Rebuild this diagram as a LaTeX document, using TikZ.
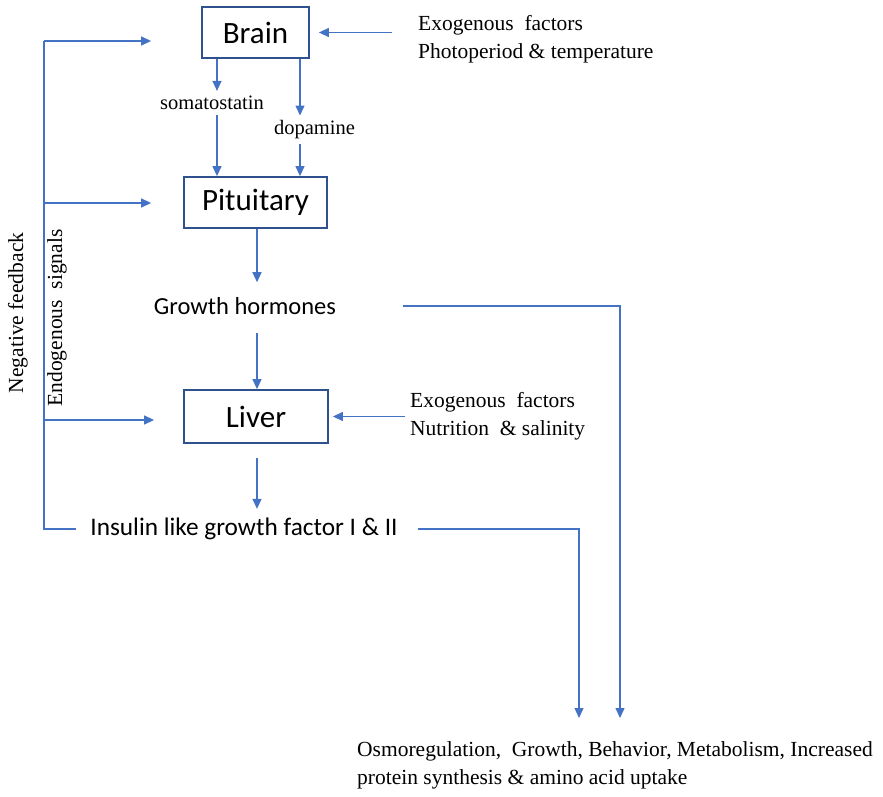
\documentclass[tikz,border=0pt]{standalone}
\usepackage{fontspec}
\setmainfont{Liberation Serif}
\newfontfamily\boxfont{Carlito}
\usetikzlibrary{arrows.meta,positioning,calc}
\definecolor{lineblue}{HTML}{4472C4}
\definecolor{boxblue}{HTML}{2F528F}

\begin{document}
\begin{tikzpicture}[x=1pt, y=-1pt, >={Triangle[length=10pt,width=9pt]},
    organ/.style={draw=boxblue, line width=1.8pt, minimum width=#1, minimum height=51pt,
                  inner sep=0pt, font=\boxfont\fontsize{31}{36}\selectfont},
    hormone/.style={inner sep=6pt, font=\boxfont\fontsize{24.5}{29}\selectfont},
    note/.style={inner sep=0pt, align=left, font=\fontsize{21.5}{28}\selectfont},
    small/.style={inner sep=5pt, font=\fontsize{20.5}{24}\selectfont},
    line/.style={draw=lineblue, line width=1.3pt},
    arr/.style={line, ->, lineblue}]
  \useasboundingbox (0,0) rectangle (883,797);

  %% Organs
  \node[organ=107pt] (brain) at (255.5,32.5) {Brain};
  \node[organ=143pt] (pit)   at (255.5,202.5) {Pituitary};
  \node[organ=144pt, minimum height=53pt] (liver) at (256,416.5) {Liver};

  %% Hormones
  \node[small] (soma) at (212,103) {somatostatin};
  \node[small] (dopa) at (314.5,130) {dopamine};
  \node[hormone] (gh)  at (245,306) {Growth hormones};
  \node[hormone, font=\boxfont\fontsize{25.3}{29}\selectfont] (igf) at (244,529)
    {Insulin like growth factor I \& II};

  %% Exogenous factors
  \node[note, anchor=west] (exo1) at (418,39)
    {Exogenous\ \ factors\\Photoperiod \& temperature};
  \node[note, anchor=west] (exo2) at (410,416.5)
    {Exogenous\ \ factors\\Nutrition\ \ \& salinity};

  %% Effects
  \node[note, anchor=north west] (out) at (357,741)
    {Osmoregulation,\ \ Growth, Behavior, Metabolism, Increased\\protein synthesis \& amino acid uptake};

  %% Side labels
  \node[note, rotate=90] (negfb) at (18,313) {Negative feedback};
  \node[note, rotate=90] (endo)  at (57,318) {Endogenous\ \ signals};

  %% Brain -> Pituitary
  \coordinate (sx) at (217,0);
  \coordinate (dx) at (300,0);
  \draw[arr] (brain.south -| sx) -- (soma.north -| sx);
  \draw[arr] (soma.south -| sx) -- (pit.north -| sx);
  \draw[arr] (brain.south -| dx) -- (dopa.north -| dx);
  \draw[arr] (dopa.south -| dx) -- (pit.north -| dx);
  \draw[arr, shorten >=9pt] ([xshift=-26pt]exo1.west |- brain) -- (brain.east);

  %% Pituitary -> Liver
  \draw[arr, shorten >=9pt] (pit.south -| 257,0) -- (gh.north -| 257,0);
  \draw[arr, shorten <=12pt] (gh.south -| 257,0) -- (liver.north -| 257,0);
  \draw[arr, shorten >=4pt] ([xshift=-5pt]exo2.west) -- (liver.east);
  \draw[arr, shorten <=14pt] (liver.south -| 257,0) -- ([yshift=3pt]igf.north -| 257,0);

  %% To effects
  \coordinate (ghr) at (403,306);
  \coordinate (t1) at (579,718);
  \coordinate (t2) at (620,718);
  \draw[arr] (ghr) -| (t2);
  \draw[arr] ([xshift=14pt]igf.east) -| (t1);

  %% Feedback loop
  \coordinate (fbt) at (44,41);
  \coordinate (fbp) at (44,203);
  \coordinate (fbl) at (44,420);
  \coordinate (fbb) at (44,529);
  \draw[line] ([xshift=-8pt]igf.west) -- (fbb) -- (fbt);
  \draw[arr, shorten >=50pt] (fbt) -- (brain.west |- fbt);
  \draw[arr, shorten >=32pt] (fbp) -- (pit.west |- fbp);
  \draw[arr, shorten >=29pt] (fbl) -- (liver.west |- fbl);
\end{tikzpicture}
\end{document}
